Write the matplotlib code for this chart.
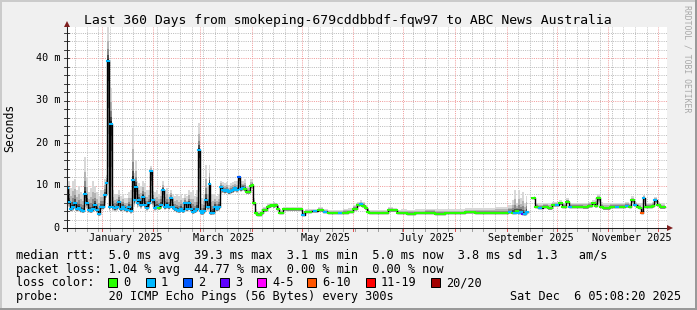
import numpy as np
import matplotlib
matplotlib.use("Agg")
import matplotlib.pyplot as plt
import matplotlib.transforms as mtrans
from matplotlib.collections import LineCollection
from matplotlib.patches import Rectangle, Polygon
from matplotlib.lines import Line2D
import datetime as dt

W, H = 697, 310
MONO = "DejaVu Sans Mono"

# ---------------- data ----------------
start = dt.datetime(2024, 12, 11, 5, 8, 20)
span_days = 360
y_max = 47.3

days = [0.0, 1.2, 2.4, 3.6, 4.8, 6.0, 7.2, 8.4, 9.6, 10.8, 12.0, 13.2, 14.4, 15.6, 16.8, 18.0,
        19.2, 20.4, 21.6, 22.8, 23.7, 24.6, 25.5, 26.4, 27.3, 28.8, 30.0, 31.2, 32.4, 33.6, 34.8,
        36.0, 37.2, 38.4, 39.6, 40.5, 41.4, 42.3, 43.2, 44.4, 45.6, 46.8, 48.0, 49.2, 50.4, 51.6,
        52.8, 54.0, 55.2, 56.4, 57.6, 58.8, 60.0, 61.2, 62.4, 63.6, 64.8, 66.0, 67.2, 68.4, 69.6,
        70.8, 72.0, 73.2, 74.4, 75.6, 76.8, 78.0, 79.2, 80.1, 81.0, 82.2, 83.4, 84.6, 85.5, 86.4,
        87.6, 88.8, 90.0, 91.2, 92.4, 93.6, 94.8, 96.0, 97.2, 98.4, 99.6, 100.8, 102.0, 103.2,
        104.4, 105.6, 106.8, 108.0, 109.2, 110.4, 111.3, 112.2, 113.4, 114.6, 115.8, 117.0, 118.2,
        119.4, 120.6, 121.8, 123.0, 124.2, 125.4, 126.6, 127.8, 129.0, 130.2, 133.8, 137.4, 139.8,
        141.6, 144.0, 148.8, 151.8, 154.8, 157.8, 160.8, 163.8, 166.8, 169.8, 172.8, 175.2, 176.4,
        177.6, 179.4, 180.6, 181.8, 184.8, 187.8, 190.8, 193.8, 196.8, 198.6, 201.6, 205.8, 211.8,
        217.8, 223.8, 229.8, 235.8, 241.8, 247.8, 253.8, 259.8, 262.8, 265.8, 267.6, 268.8, 270.0,
        271.2, 272.4, 273.6, 274.8, 276.0, 277.5, 280.2, 281.4, 283.8, 286.8, 289.8, 291.6, 294.0,
        295.8, 298.2, 300.0, 301.8, 304.8, 307.8, 310.8, 313.8, 315.6, 317.4, 318.6, 320.4, 322.2,
        324.0, 327.0, 330.0, 333.0, 336.0, 337.8, 339.0, 340.8, 342.6, 343.8, 345.0, 345.9, 347.4,
        349.8, 351.6, 352.8, 354.6, 356.4, 358.8]

median_ms = [9.3, 6.2, 4.4, 5.0, 5.8, 4.5, 4.8, 4.2, 4.0, 8.0, 6.0, 4.2, 4.0, 4.5, 5.5, 4.2,
             3.2, 5.0, 5.0, 7.8, 10.5, 39.3, 5.0, 24.5, 5.0, 4.6, 5.0, 6.2, 4.5, 5.0, 4.5,
             4.2, 5.0, 4.0, 11.3, 6.5, 9.7, 6.0, 6.6, 5.5, 7.4, 5.5, 4.8, 5.8, 13.3, 6.5,
             4.8, 5.0, 4.8, 5.5, 9.0, 5.0, 5.5, 5.0, 7.0, 5.0, 4.5, 4.2, 4.0, 4.5, 4.0,
             5.8, 4.5, 5.8, 4.5, 3.8, 4.0, 4.5, 18.4, 4.0, 3.5, 4.0, 6.6, 5.0, 10.4, 3.5,
             3.6, 5.0, 4.5, 5.0, 9.7, 8.9, 8.7, 8.9, 8.4, 8.7, 8.9, 9.3, 9.0, 12.1,
             9.2, 9.5, 9.2, 8.5, 8.5, 9.9, 10.1, 5.8, 3.5, 3.1, 3.1, 3.5, 4.2,
             4.2, 5.0, 5.2, 5.4, 5.2, 5.5, 4.5, 3.5, 3.6, 4.4, 4.4, 4.4, 4.4,
             3.1, 3.8, 3.9, 4.2, 3.8, 3.6, 3.5, 3.5, 3.6, 3.8, 4.5, 5.4, 5.6,
             5.2, 4.6, 3.8, 3.5, 3.5, 3.5, 3.6, 4.2, 4.2, 3.5, 3.6, 3.4, 3.5,
             3.6, 3.4, 3.5, 3.5, 3.7, 3.5, 3.6, 3.6, 3.6, 3.8, 3.6, 3.5, 4.0,
             3.5, 3.8, 3.3, 3.2, 3.8, np.nan, 7.0, 5.0, 4.8, 5.0, 4.6, 5.4, 5.4,
             5.8, 5.0, 6.2, 5.0, 5.0, 5.0, 4.9, 5.2, 5.8, 5.2, 7.0, 5.0, 4.6,
             4.6, 5.0, 5.0, 5.0, 5.2, 5.0, 6.6, 5.4, 5.0, 4.8, 3.6, 7.1, 5.0,
             5.0, 5.2, 6.6, 5.4, 4.9, 4.9]

smoke_hi_ms = [12.0, 11.0, 9.5, 11.0, 11.5, 9.0, 10.0, 8.5, 8.0, 16.8, 12.0, 8.5, 9.5, 11.0, 10.0, 8.5,
               7.5, 9.0, 9.0, 11.5, 12.5, 47.3, 10.0, 33.0, 9.0, 8.0, 8.0, 9.0, 7.5, 8.0, 7.0,
               7.0, 8.5, 9.0, 23.5, 13.0, 16.0, 11.0, 10.5, 10.0, 11.0, 10.5, 9.0, 9.0, 14.6, 10.0,
               8.5, 9.0, 8.0, 9.0, 11.0, 9.0, 9.5, 8.0, 9.0, 8.0, 7.5, 8.0, 7.5, 8.0, 7.0,
               8.0, 7.5, 9.0, 8.5, 9.0, 7.5, 9.0, 24.6, 9.0, 7.0, 8.0, 14.8, 10.0, 14.8, 8.0,
               8.0, 8.0, 7.5, 8.0, 11.0, 10.8, 10.5, 10.8, 10.2, 10.5, 10.8, 11.0, 11.0, 12.5,
               11.0, 11.0, 11.5, 10.0, 10.0, 11.5, 11.2, 7.0, 4.5, 4.0, 4.0, 4.5, 5.0,
               5.0, 5.8, 6.0, 6.0, 6.2, 6.0, 5.5, 4.5, 4.2, 5.0, 5.0, 5.0, 5.0,
               4.0, 4.5, 4.5, 5.0, 4.5, 4.3, 4.3, 4.3, 4.5, 4.6, 5.5, 6.2, 6.5,
               6.2, 5.5, 4.8, 4.3, 4.2, 4.2, 4.3, 5.0, 4.8, 4.3, 4.4, 4.3, 4.4,
               4.5, 4.4, 4.5, 4.4, 4.6, 4.6, 4.7, 5.0, 5.0, 5.5, 6.5, 8.9, 6.0,
               9.0, 7.0, 8.5, 6.0, 7.5, np.nan, 7.5, 6.0, 5.8, 6.0, 5.8, 6.2, 6.2,
               6.5, 6.0, 7.0, 6.0, 6.0, 6.0, 6.0, 6.2, 6.5, 7.0, 8.0, 6.2, 5.8,
               5.8, 6.0, 6.0, 6.0, 6.2, 6.0, 7.5, 6.2, 6.0, 5.8, 6.0, 7.8, 6.0,
               6.0, 6.2, 7.2, 6.2, 5.8, 5.8]

smoke_lo_ms = [7.0, 5.0, 3.8, 4.0, 4.5, 3.8, 4.0, 3.6, 3.5, 5.0, 4.5, 3.6, 3.5, 3.8, 4.2, 3.6,
               2.8, 4.2, 4.2, 5.5, 7.0, 8.0, 4.0, 6.0, 4.0, 3.8, 4.0, 4.5, 3.8, 4.0, 3.8,
               3.6, 4.0, 3.4, 6.0, 5.0, 6.0, 4.8, 5.0, 4.5, 5.5, 4.5, 4.0, 4.6, 7.0, 5.0,
               4.0, 4.2, 4.2, 4.5, 5.5, 4.2, 4.5, 4.2, 5.0, 4.2, 3.8, 3.6, 3.5, 3.8, 3.5,
               4.5, 3.8, 4.5, 3.8, 3.3, 3.5, 3.8, 6.0, 3.4, 3.0, 3.4, 4.8, 4.0, 6.0, 3.0,
               3.1, 4.0, 3.8, 4.0, 8.0, 8.2, 8.0, 8.2, 7.8, 8.0, 8.2, 8.5, 8.3, 9.0,
               8.5, 8.8, 8.5, 8.0, 8.0, 9.2, 9.4, 5.2, 3.1, 2.8, 2.8, 3.1, 3.8,
               3.8, 4.5, 4.7, 4.9, 4.7, 5.0, 4.1, 3.2, 3.3, 4.0, 4.0, 4.0, 4.0,
               2.8, 3.5, 3.6, 3.8, 3.5, 3.3, 3.2, 3.2, 3.3, 3.5, 4.1, 5.0, 5.2,
               4.8, 4.2, 3.5, 3.2, 3.2, 3.2, 3.3, 3.8, 3.8, 3.2, 3.3, 3.1, 3.2,
               3.3, 3.1, 3.2, 3.2, 3.4, 3.2, 3.3, 3.3, 3.3, 3.4, 3.3, 3.2, 3.5,
               3.2, 3.4, 3.0, 2.9, 3.4, np.nan, 6.5, 4.6, 4.4, 4.6, 4.2, 5.0, 5.0,
               5.3, 4.6, 5.6, 4.6, 4.6, 4.6, 4.5, 4.8, 5.3, 4.8, 6.0, 4.6, 4.2,
               4.2, 4.6, 4.6, 4.6, 4.8, 4.6, 5.8, 5.0, 4.6, 4.4, 3.2, 6.0, 4.6,
               4.6, 4.8, 5.8, 5.0, 4.5, 4.5]

loss_bucket = [1, 1, 1, 1, 1, 1, 1, 1, 1, 1, 1, 1, 1, 1, 1, 1,
               1, 1, 1, 1, 1, 1, 1, 1, 1, 1, 1, 1, 1, 1, 1,
               1, 1, 1, 1, 1, 1, 1, 1, 1, 1, 1, 1, 1, 1, 1,
               1, 1, 0, 1, 1, 1, 1, 1, 1, 1, 1, 1, 1, 1, 1,
               1, 1, 1, 1, 1, 1, 1, 1, 1, 1, 1, 1, 1, 1, 1,
               1, 1, 1, 1, 1, 1, 1, 1, 1, 1, 1, 1, 1, 2,
               1, 1, 0, 0, 0, 0, 0, 0, 0, 0, 0, 0, 0,
               0, 0, 0, 0, 0, 0, 0, 0, 0, 0, 0, 0, 0,
               1, 0, 1, 0, 1, 0, 0, 1, 0, 0, 0, 0, 1,
               0, 0, 0, 0, 0, 0, 0, 0, 0, 0, 0, 0, 0,
               0, 0, 0, 0, 0, 0, 0, 0, 0, 1, 0, 1, 0,
               1, 1, 3, 1, 1, 0, 0, 0, 1, 0, 0, 0, 1,
               0, 0, 0, 1, 0, 0, 0, 0, 0, 0, 0, 0, 0,
               0, 0, 1, 0, 1, 0, 0, 1, 0, 0, 5, 1, 0,
               0, 0, 1, 0, 0, 0]

loss_labels = ["0", "1", "2", "3", "4-5", "6-10", "11-19", "20/20"]
loss_colors = ["#26ff00", "#00b8ff", "#0059ff", "#5e00ff", "#ff00ff", "#ff5500", "#ff0000", "#a10000"]

y_ticks = [0, 10, 20, 30, 40]
y_tick_labels = ["0", "10 m", "20 m", "30 m", "40 m"]
label_months = [(2025, 1), (2025, 3), (2025, 5), (2025, 7), (2025, 9), (2025, 11)]
label_texts = ["January 2025", "March 2025", "May 2025", "July 2025", "September 2025", "November 2025"]

title = "Last 360 Days from smokeping-679cddbbdf-fqw97 to ABC News Australia"
row_rtt = "median rtt:  5.0 ms avg  39.3 ms max  3.1 ms min  5.0 ms now  3.8 ms sd  1.3   am/s"
row_loss = "packet loss: 1.04 % avg  44.77 % max  0.00 % min  0.00 % now"
row_probe = "probe:       20 ICMP Echo Pings (56 Bytes) every 300s"
stamp = "Sat Dec  6 05:08:20 2025"
watermark = "RRDTOOL / TOBI OETIKER"

# ---------------- helpers ----------------
def P(x, y):
    return (x / W, 1 - y / H)

def dday(t):
    return (t - start).total_seconds() / 86400.0

# ---------------- figure ----------------
fig = plt.figure(figsize=(W / 100, H / 100), dpi=100)
fig.patch.set_facecolor("#f0f0f0")
ft = fig.transFigure

for (x0, y0, w, h, c) in [(0, 0, W, 2, "#cbcbcb"), (0, 0, 2, H, "#cbcbcb"),
                          (0, H - 2, W, 2, "#999999"), (W - 2, 0, 2, H, "#999999")]:
    fig.patches.append(Rectangle((x0 / W, 1 - (y0 + h) / H), w / W, h / H,
                                 transform=ft, facecolor=c, edgecolor="none", zorder=5))

ax = fig.add_axes([67 / W, (H - 228) / H, 600 / W, 201 / H])
ax.set_facecolor("white")
ax.set_xlim(0, span_days)
ax.set_ylim(0, y_max)
for s in ax.spines.values():
    s.set_visible(False)
ax.set_xticks([])
ax.set_yticks([])

DOT = (0, (1, 1.2))
MINOR_C = "#bdbdbd"
MAJOR_C = "#f09c9c"
for v in range(2, 48, 2):
    major = (v % 10 == 0)
    ax.axhline(v, color=MAJOR_C if major else MINOR_C, lw=0.72, ls=DOT, zorder=0.5)

month_days = [dday(dt.datetime(2025, m, 1)) for m in range(1, 13)]
week_days = []
t = dt.datetime(2024, 12, 16)
while dday(t) < span_days:
    week_days.append(dday(t))
    t += dt.timedelta(days=7)
for wd in week_days:
    if min(abs(wd - md) for md in month_days) > 1.5:
        ax.axvline(wd, color=MINOR_C, lw=0.72, ls=DOT, zorder=0.5)
for md in month_days:
    ax.axvline(md, color=MAJOR_C, lw=0.72, ls=DOT, zorder=0.6)

# ---------------- smoke + median ----------------
d = np.array(days, float)
med = np.ma.masked_invalid(np.array(median_ms, float))
hi = np.ma.masked_invalid(np.array(smoke_hi_ms, float))
lo = np.ma.masked_invalid(np.array(smoke_lo_ms, float))

bands = [(1.0, 1.0, "#d8d8d8"), (0.8, 0.6, "#b4b4b4"), (0.55, 0.35, "#8a8a8a"),
         (0.35, 0.18, "#505050"), (0.15, 0.07, "#202020")]
for fl, fh, c in bands:
    b_lo = med - fl * (med - lo)
    b_hi = med + fh * (hi - med)
    ax.fill_between(d, b_lo, b_hi, step="mid", color=c, lw=0, zorder=1)

ax.step(d, med, where="mid", color="black", lw=1.0, zorder=2)

mids = (d[1:] + d[:-1]) / 2
left = np.concatenate([[d[0]], mids])
right = np.concatenate([mids, [d[-1]]])
segs, cols = [], []
for i in range(len(d)):
    if np.isnan(median_ms[i]):
        continue
    half = 0.45 if loss_bucket[i] != 0 else 10.0
    l = max(left[i], d[i] - half)
    r = min(right[i], d[i] + half)
    segs.append([(l, median_ms[i]), (r, median_ms[i])])
    cols.append(loss_colors[loss_bucket[i]])
ax.add_collection(LineCollection(segs, colors=cols, linewidths=1.5, zorder=3, capstyle="projecting"))

# ---------------- axes lines, arrows, ticks ----------------
axis_c = "#202020"
fig.lines.append(Line2D([63 / W, 667 / W], [1 - 228 / H] * 2, transform=ft, color=axis_c, lw=0.75, zorder=6))
fig.lines.append(Line2D([67 / W] * 2, [1 - 231 / H, 1 - 27 / H], transform=ft, color=axis_c, lw=0.75, zorder=6))
fig.patches.append(Polygon([P(667, 225), P(673, 228), P(667, 231)], closed=True, transform=ft,
                           facecolor="#7f1f1f", edgecolor="none", zorder=7))
fig.patches.append(Polygon([P(64, 27), P(67, 21), P(70, 27)], closed=True, transform=ft,
                           facecolor="#7f1f1f", edgecolor="none", zorder=7))

ytr = ax.get_yaxis_transform()
xtr = ax.get_xaxis_transform()
for v in range(0, 48, 2):
    ax.plot([-3 / 600, 2 / 600], [v, v], transform=ytr, color=axis_c, lw=0.6, clip_on=False, zorder=6)
for wd in week_days:
    ax.plot([wd, wd], [0, -2.5 / 201], transform=xtr, color="#a0a0a0", lw=0.7, clip_on=False, zorder=6)
for md in month_days:
    ax.plot([md, md], [0, -2.5 / 201], transform=xtr, color="#e05050", lw=0.7, clip_on=False, zorder=6)

ylab_tr = mtrans.offset_copy(ytr, fig=fig, x=-7, y=-2.7, units="dots")
for v, s in zip(y_ticks, y_tick_labels):
    ax.text(0, v, s, transform=ylab_tr, ha="right", va="baseline", family=MONO, fontsize=7.25,
            clip_on=False)
xlab_tr = mtrans.offset_copy(xtr, fig=fig, x=0, y=-13, units="dots")
for (yy, mm), s in zip(label_months, label_texts):
    ax.text(dday(dt.datetime(yy, mm, 15, 6)), 0, s, transform=xlab_tr, ha="center", va="baseline",
            family=MONO, fontsize=7.25, clip_on=False)

# ---------------- texts ----------------
fig.text(*P(347.5, 24), title, ha="center", va="baseline", family=MONO, fontsize=9.45)
fig.text(*P(10, 127.5), "Seconds", rotation=90, ha="center", va="center", family=MONO, fontsize=8.3)
fig.text(*P(686.5, 5), watermark, rotation=270, ha="center", va="top", family=MONO, fontsize=5.9,
         color="#a8a8a8")

LEG = 8.53
fig.text(*P(16, 258.5), row_rtt, ha="left", va="baseline", family=MONO, fontsize=LEG)
fig.text(*P(16, 272.5), row_loss, ha="left", va="baseline", family=MONO, fontsize=LEG)
fig.text(*P(16, 286.5), "loss color:", ha="left", va="baseline", family=MONO, fontsize=LEG)
box_x = [108, 145.7, 182.7, 220, 257, 307.3, 365.7, 430.7]
for bx, lab, c in zip(box_x, loss_labels, loss_colors):
    fig.patches.append(Rectangle((bx / W, 1 - 286.5 / H), 9 / W, 9 / H, transform=ft,
                                 facecolor=c, edgecolor="black", lw=0.72, zorder=6))
    fig.text(*P(bx + 15, 286.5), lab, ha="left", va="baseline", family=MONO, fontsize=LEG)
fig.text(*P(16, 300), row_probe, ha="left", va="baseline", family=MONO, fontsize=LEG)
fig.text(*P(681, 300), stamp, ha="right", va="baseline", family=MONO, fontsize=LEG)

fig.savefig("out.png", dpi=100, facecolor=fig.get_facecolor())
